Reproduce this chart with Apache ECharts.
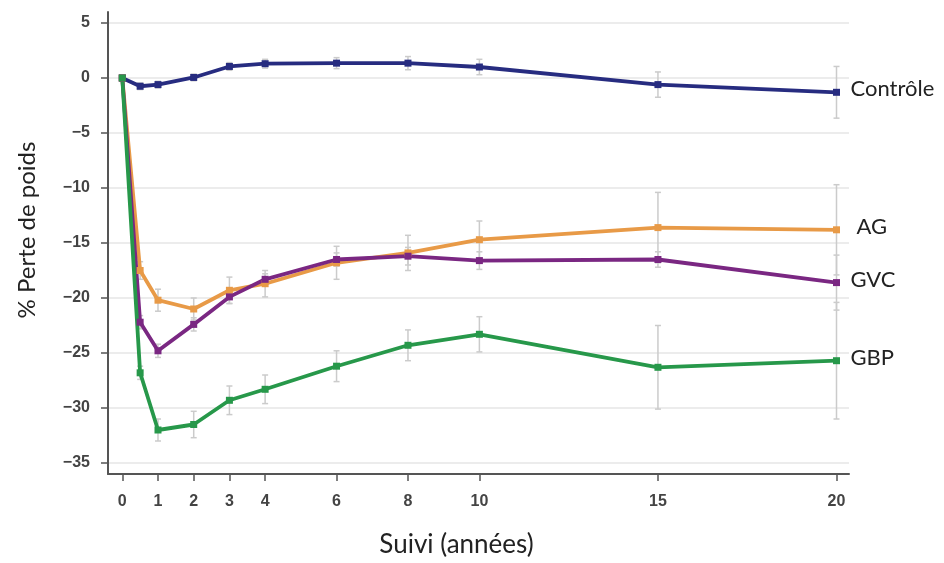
<!DOCTYPE html>
<html>
<head>
<meta charset="utf-8">
<script src="https://cdn.jsdelivr.net/npm/echarts@6/dist/echarts.min.js"></script>
<style>
  html, body { margin: 0; padding: 0; background: #fff; }
  #chart { width: 944px; height: 563px; }
</style>
</head>
<body>
<div id="chart"></div>
<script>
// suivi en années
const years = [0, 0.5, 1, 2, 3, 4, 6, 8, 10, 15, 20];
const xTicks = [0, 1, 2, 3, 4, 6, 8, 10, 15, 20];
const yTicks = [-35, -30, -25, -20, -15, -10, -5, 0, 5];

const controle = [0, -0.75, -0.6, 0.05, 1.05, 1.3, 1.35, 1.35, 1.0, -0.6, -1.3];
const controleErr = [0, 0.3, 0.3, 0.3, 0.35, 0.4, 0.5, 0.6, 0.7, 1.15, 2.35];
const ag = [0, -17.5, -20.2, -21.0, -19.3, -18.7, -16.8, -15.9, -14.7, -13.6, -13.8];
const agErr = [0, 0.8, 1.0, 1.0, 1.2, 1.2, 1.5, 1.6, 1.7, 3.2, 4.1];
const gvc = [0, -22.2, -24.8, -22.4, -19.9, -18.3, -16.5, -16.2, -16.6, -16.5, -18.6];
const gvcErr = [0, 0.6, 0.6, 0.6, 0.6, 0.5, 0.6, 0.8, 0.8, 0.7, 2.5];
const gbp = [0, -26.8, -32.0, -31.5, -29.3, -28.3, -26.2, -24.3, -23.3, -26.3, -25.7];
const gbpErr = [0, 0.6, 1.0, 1.2, 1.3, 1.3, 1.4, 1.4, 1.6, 3.8, 5.3];

const groups = [
    { name: 'Contrôle', values: controle, err: controleErr, color: '#272c80' },
    { name: 'AG', values: ag, err: agErr, color: '#e89a47' },
    { name: 'GVC', values: gvc, err: gvcErr, color: '#7a2782' },
    { name: 'GBP', values: gbp, err: gbpErr, color: '#27984a' }
];

let chart = echarts.init(document.getElementById('chart'));

function errorBars(g) {
    return {
        type: 'custom',
        name: g.name + ' err',
        z: 1,
        silent: true,
        data: years.map((x, i) => [x, g.values[i] - g.err[i], g.values[i] + g.err[i]]),
        renderItem: function (params, api) {
            let lo = api.coord([api.value(0), api.value(1)]);
            let hi = api.coord([api.value(0), api.value(2)]);
            let style = { stroke: '#cbcbcb', lineWidth: 1.5 };
            return {
                type: 'group',
                children: [
                    { type: 'line', shape: { x1: lo[0], y1: lo[1], x2: hi[0], y2: hi[1] }, style: style },
                    { type: 'line', shape: { x1: lo[0] - 3, y1: lo[1], x2: lo[0] + 3, y2: lo[1] }, style: style },
                    { type: 'line', shape: { x1: hi[0] - 3, y1: hi[1], x2: hi[0] + 3, y2: hi[1] }, style: style }
                ]
            };
        }
    };
}

function lineSeries(g) {
    return {
        type: 'line',
        name: g.name,
        z: 3,
        data: years.map((x, i) => [x, g.values[i]]),
        symbol: 'rect',
        symbolSize: 7,
        color: g.color,
        lineStyle: { width: 3.8, color: g.color },
        itemStyle: { color: g.color },
        endLabel: {
            show: true,
            formatter: g.name,
            distance: g.name === 'AG' ? 20 : 14,
            offset: [0, -3],
            color: '#222',
            fontSize: 22,
            fontFamily: 'Lato'
        }
    };
}

let series = [];
groups.forEach(g => series.push(errorBars(g)));
groups.forEach(g => series.push(lineSeries(g)));

let option = {
    animation: false,
    grid: { left: 108, right: 95, top: 12, bottom: 87 },
    xAxis: {
        type: 'value',
        min: -0.4,
        max: 20.35,
        name: 'Suivi (années)',
        nameLocation: 'middle',
        nameGap: 58,
        nameTextStyle: { fontSize: 26, color: '#222', fontFamily: 'Lato', padding: [0, 44, 0, 0] },
        axisLine: { show: true, onZero: false, lineStyle: { color: '#555', width: 2 } },
        axisTick: { show: true, customValues: xTicks, length: 7, lineStyle: { color: '#555', width: 1.5 } },
        axisLabel: {
            customValues: xTicks,
            color: '#444',
            fontSize: 16,
            fontWeight: 'bold',
            fontFamily: 'Liberation Sans',
            margin: 20
        },
        splitLine: { show: false }
    },
    yAxis: {
        type: 'value',
        min: -36,
        max: 6,
        name: '% Perte de poids',
        nameLocation: 'middle',
        nameGap: 69,
        nameTextStyle: { fontSize: 24, color: '#222', fontFamily: 'Lato', padding: [0, 0, 0, 26] },
        axisLine: { show: true, onZero: false, lineStyle: { color: '#555', width: 2 } },
        axisTick: { show: true, customValues: yTicks, length: 7, lineStyle: { color: '#555', width: 1.5 } },
        axisLabel: {
            customValues: yTicks,
            color: '#444',
            fontSize: 16,
            fontWeight: 'bold',
            fontFamily: 'Liberation Sans',
            margin: 18,
            formatter: v => String(v).replace('-', '\u2212')
        },
        splitLine: { show: true, lineStyle: { color: '#ececec', width: 2 } }
    },
    series: series
};

chart.setOption(option);
</script>
</body>
</html>
